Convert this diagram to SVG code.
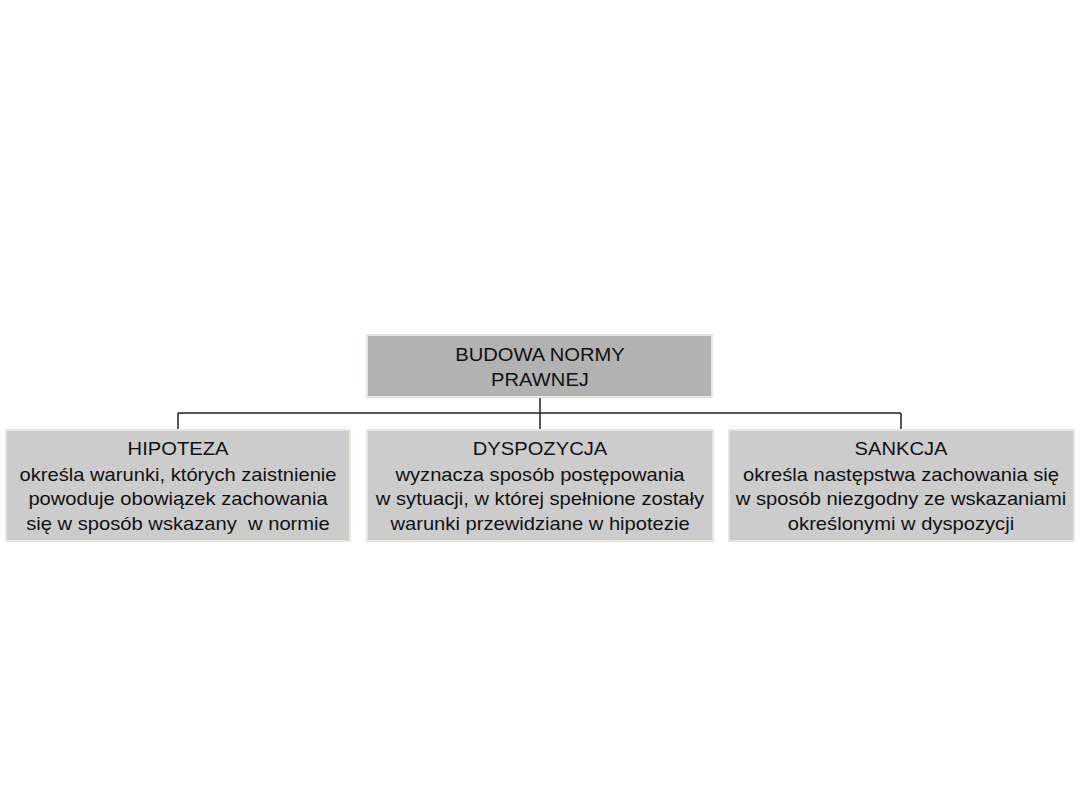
<svg xmlns="http://www.w3.org/2000/svg" width="1080" height="810" viewBox="0 0 1080 810">
<style>
.t{font-family:"Liberation Sans",Arial,sans-serif;font-size:18px;fill:#111;text-anchor:middle}
.top{fill:#b2b2b2;stroke:#e6e6dc;stroke-width:2}
.box{fill:#cccccc;stroke:#e6e6dc;stroke-width:2}
.c{stroke:#222;stroke-width:1.5;fill:none}
</style>
<rect width="1080" height="810" fill="#fff"/>
<g id="connectors">
<path class="c" d="M540 397V430M178 413H901M178 413V430M901 413V430"/>
</g>
<g id="root">
<rect class="top" x="367" y="335" width="345" height="62"/>
<g transform="translate(540,0) scale(1.12,1)">
<text class="t" x="0" y="361">BUDOWA NORMY</text>
<text class="t" x="0" y="386">PRAWNEJ</text>
</g>
</g>
<g id="hipoteza">
<rect class="box" x="6" y="430" width="344" height="111"/>
<g transform="translate(178,0) scale(1.12,1)">
<text class="t" x="0" y="455">HIPOTEZA</text>
<text class="t" x="0" y="481">określa warunki, których zaistnienie</text>
<text class="t" x="0" y="505">powoduje obowiązek zachowania</text>
<text class="t" x="0" y="530" xml:space="preserve">się w sposób wskazany  w normie</text>
</g>
</g>
<g id="dyspozycja">
<rect class="box" x="367" y="430" width="346" height="111"/>
<g transform="translate(540,0) scale(1.12,1)">
<text class="t" x="0" y="455">DYSPOZYCJA</text>
<text class="t" x="0" y="481">wyznacza sposób postępowania</text>
<text class="t" x="0" y="505">w sytuacji, w której spełnione zostały</text>
<text class="t" x="0" y="530">warunki przewidziane w hipotezie</text>
</g>
</g>
<g id="sankcja">
<rect class="box" x="729" y="430" width="345" height="111"/>
<g transform="translate(901,0) scale(1.12,1)">
<text class="t" x="0" y="455">SANKCJA</text>
<text class="t" x="0" y="481">określa następstwa zachowania się</text>
<text class="t" x="0" y="505">w sposób niezgodny ze wskazaniami</text>
<text class="t" x="0" y="530">określonymi w dyspozycji</text>
</g>
</g>
</svg>
